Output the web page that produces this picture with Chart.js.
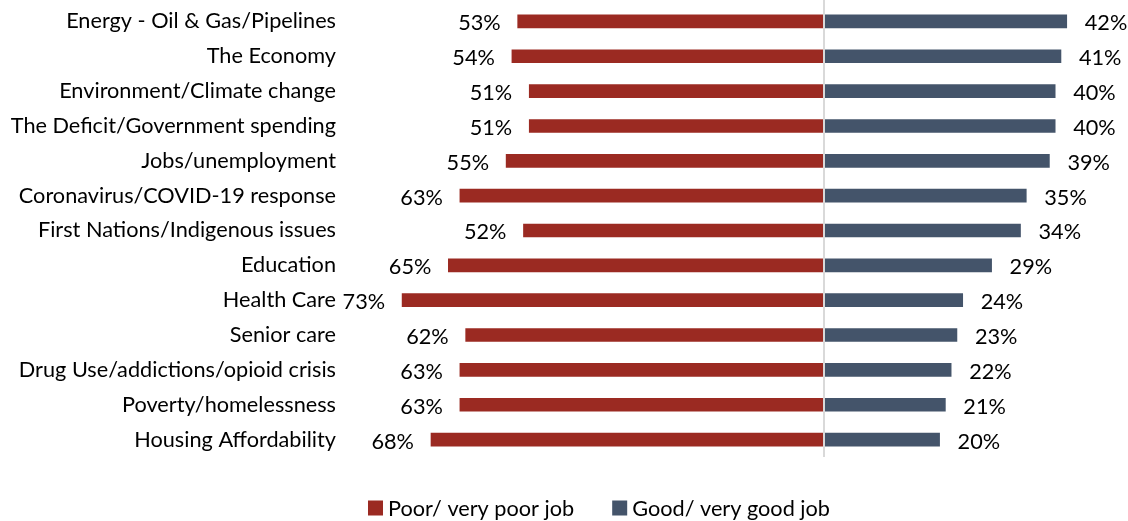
<!DOCTYPE html>
<html>
<head>
<meta charset="utf-8">
<script src="https://cdn.jsdelivr.net/npm/chart.js@4.4.0/dist/chart.umd.min.js"></script>
<style>
html, body { margin: 0; padding: 0; background: #fff; }
#wrap { width: 1128px; height: 521px; position: relative; }
</style>
</head>
<body>
<div id="wrap"><canvas id="issuesChart"></canvas></div>
<script>
const issues = [
    "Energy - Oil & Gas/Pipelines",
    "The Economy",
    "Environment/Climate change",
    "The Deficit/Government spending",
    "Jobs/unemployment",
    "Coronavirus/COVID-19 response",
    "First Nations/Indigenous issues",
    "Education",
    "Health Care",
    "Senior care",
    "Drug Use/addictions/opioid crisis",
    "Poverty/homelessness",
    "Housing Affordability"
];
const poorJob = [53, 54, 51, 51, 55, 63, 52, 65, 73, 62, 63, 63, 68];
const goodJob = [42, 41, 40, 40, 39, 35, 34, 29, 24, 23, 22, 21, 20];
const seriesNames = ["Poor/ very poor job", "Good/ very good job"];

const FONT = "Lato";
const FONT_SIZE = 21.7;
const RED = "#9B2A22";
const SLATE = "#44546A";

// value labels at the end of each bar
const valueLabels = {
    id: "valueLabels",
    afterDatasetsDraw(chart) {
        const ctx = chart.ctx;
        ctx.save();
        ctx.font = FONT_SIZE + "px " + FONT;
        ctx.fillStyle = "#000";
        ctx.textBaseline = "middle";
        chart.data.datasets.forEach((ds, i) => {
            chart.getDatasetMeta(i).data.forEach((bar, j) => {
                const v = ds.data[j];
                if (v < 0) {
                    ctx.textAlign = "right";
                    ctx.fillText(Math.abs(v) + "%", bar.x - 17, bar.y + 2);
                } else {
                    ctx.textAlign = "left";
                    ctx.fillText(v + "%", bar.x + 18, bar.y + 2);
                }
            });
        });
        ctx.restore();
    }
};

// grey line at zero
const zeroLine = {
    id: "zeroLine",
    afterDatasetsDraw(chart) {
        const ctx = chart.ctx;
        const x = chart.scales.x.getPixelForValue(0);
        ctx.save();
        ctx.strokeStyle = "#D9D9D9";
        ctx.lineWidth = 2;
        ctx.beginPath();
        ctx.moveTo(x, 0);
        ctx.lineTo(x, chart.chartArea.bottom);
        ctx.stroke();
        ctx.restore();
    }
};

// legend drawn by hand so it can sit exactly under the plot
const bottomLegend = {
    id: "bottomLegend",
    afterDraw(chart) {
        const ctx = chart.ctx;
        ctx.save();
        ctx.font = FONT_SIZE + "px " + FONT;
        ctx.textBaseline = "middle";
        ctx.textAlign = "left";
        const box = 15, gapText = 5, gapItem = 38, cy = 508;
        const items = chart.data.datasets.map(ds => ({
            text: ds.label, color: ds.backgroundColor, w: ctx.measureText(ds.label).width
        }));
        let total = 0;
        items.forEach((it, i) => { total += box + gapText + it.w + (i ? gapItem : 0); });
        let x = 599 - total / 2;
        items.forEach(it => {
            ctx.fillStyle = it.color;
            ctx.fillRect(x, cy - box / 2, box, box);
            ctx.fillStyle = "#000";
            ctx.fillText(it.text, x + box + gapText, cy + 1);
            x += box + gapText + it.w + gapItem;
        });
        ctx.restore();
    }
};

const ctx = document.getElementById("issuesChart").getContext("2d");

new Chart(ctx, {
    type: "bar",
    data: {
        labels: issues,
        datasets: [{
            label: seriesNames[0],
            data: poorJob.map(v => -v),
            backgroundColor: RED,
            barThickness: 13
        }, {
            label: seriesNames[1],
            data: goodJob,
            backgroundColor: SLATE,
            barThickness: 13
        }]
    },
    options: {
        indexAxis: "y",
        responsive: true,
        maintainAspectRatio: false,
        animation: false,
        layout: { padding: { top: 4, bottom: 64, left: 0, right: 0 } },
        plugins: {
            legend: { display: false },
            tooltip: { enabled: false }
        },
        scales: {
            x: {
                stacked: true,
                min: -83.4,
                max: 52.6,
                display: false
            },
            y: {
                stacked: true,
                grid: { display: false, drawTicks: false },
                border: { display: false },
                ticks: {
                    color: "#000",
                    padding: 6,
                    font: { family: FONT, size: FONT_SIZE }
                },
                afterFit(scale) {
                    scale.width = 342;
                    scale.paddingTop = 0;
                    scale.paddingBottom = 0;
                }
            }
        }
    },
    plugins: [valueLabels, zeroLine, bottomLegend]
});
</script>
</body>
</html>
